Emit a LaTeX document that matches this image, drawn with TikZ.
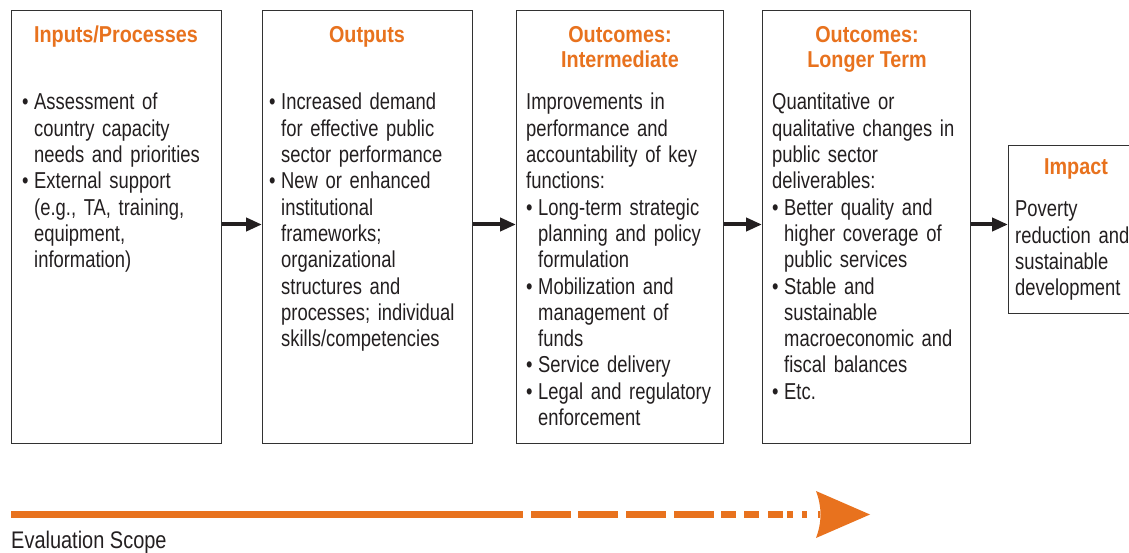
\documentclass[tikz,border=0pt]{standalone}
\usepackage{fontspec}
\usepackage{graphicx}
\setmainfont{Liberation Sans}[FakeStretch=0.80,BoldFeatures={FakeStretch=0.86}]
\usetikzlibrary{arrows.meta}
\definecolor{orng}{RGB}{232,114,30}
\definecolor{txt}{RGB}{35,31,32}
\definecolor{bord}{RGB}{50,50,50}
\newcommand\bul{\hangindent=12pt\hangafter=1\makebox[12pt][l]{\textbullet}}
\tikzset{
  box/.style={draw=bord,line width=1.4pt,fill=white,anchor=north west,inner sep=0pt},
  ttl/.style={font=\fontsize{23}{25}\selectfont\bfseries,text=orng,anchor=base,inner sep=0pt},
  body/.style={text width=220pt,inner sep=0pt,anchor=base west,text=txt,
    font=\fontsize{23}{26.3}\selectfont},
  flow/.style={-{Triangle[length=16pt,width=13pt]},line width=4pt,draw=txt},
}
\begin{document}
\begin{tikzpicture}[x=1pt,y=-1pt]
\useasboundingbox (0,0) rectangle (1129,553);
% boxes
\node[box,minimum width=210pt,minimum height=433pt] (B1) at (11,10) {};
\node[box,minimum width=210pt,minimum height=433pt] (B2) at (262,10) {};
\node[box,minimum width=207pt,minimum height=433pt] (B3) at (516,10) {};
\node[box,minimum width=208pt,minimum height=433pt] (B4) at (762,10) {};
\node[box,minimum width=140pt,minimum height=168pt] (B5) at (1008,145) {};
% titles
\node[ttl] (T1) at (116,43) {Inputs/Processes};
\node[ttl] (T2) at (367,43) {Outputs};
\node[ttl] (T3a) at (620,43) {Outcomes:};
\node[ttl] (T3b) at (620,68) {Intermediate};
\node[ttl] (T4a) at (867,43) {Outcomes:};
\node[ttl] (T4b) at (867,68) {Longer Term};
\node[ttl] (T5) at (1076,175) {Impact};
% bodies
\node[body] (D1) at (22,110) {\parindent0pt\raggedright
\bul Assessment of\newline country capacity\newline needs and priorities\par
\bul External support\newline (e.g., TA, training,\newline equipment,\newline information)\par};
\node[body] (D2) at (269,110) {\parindent0pt\raggedright
\bul Increased demand\newline for effective public\newline sector performance\par
\bul New or enhanced\newline institutional\newline frameworks;\newline organizational\newline structures and\newline processes; individual\newline skills/competencies\par};
\node[body] (D3) at (526,110) {\parindent0pt\raggedright
Improvements in\newline performance and\newline accountability of key\newline functions:\par
\bul Long-term strategic\newline planning and policy\newline formulation\par
\bul Mobilization and\newline management of\newline funds\par
\bul Service delivery\par
\bul Legal and regulatory\newline enforcement\par};
\node[body] (D4) at (772,110) {\parindent0pt\raggedright
Quantitative or\newline qualitative changes in\newline public sector\newline deliverables:\par
\bul Better quality and\newline higher coverage of\newline public services\par
\bul Stable and\newline sustainable\newline macroeconomic and\newline fiscal balances\par
\bul Etc.\par};
\node[body] (D5) at (1015,217) {\parindent0pt\raggedright
Poverty\newline reduction and\newline sustainable\newline development\par};
% connectors
\coordinate (Y) at (0,224.5);
\draw[flow] (B1.east |- Y) -- (B2.west |- Y);
\draw[flow] (B2.east |- Y) -- (B3.west |- Y);
\draw[flow] (B3.east |- Y) -- (B4.west |- Y);
\draw[flow] (B4.east |- Y) -- (B5.west |- Y);
% evaluation scope arrow
\coordinate (S) at (11,514.5);
\coordinate (E) at (820,514.5);
\coordinate (Tip) at (870,514.5);
\draw[orng,line width=7pt,dash pattern=on 512pt off 8pt on 40pt off 7pt on 40pt off 8pt on 40pt off 8pt on 40pt off 7pt on 15pt off 8pt on 15pt off 9pt on 15pt off 4pt on 6pt off 9pt on 5pt off 11pt on 20pt] (S) -- (E);
\fill[orng] (Tip) -- (816,538) .. controls (822,522) and (822,507) .. (816,491) -- cycle;
\node[anchor=base west,inner sep=0pt,text=txt,font=\fontsize{24}{26}\selectfont] (ES) at (11,548) {\scalebox{1.04}[1]{Evaluation Scope}};
\end{tikzpicture}
\end{document}
